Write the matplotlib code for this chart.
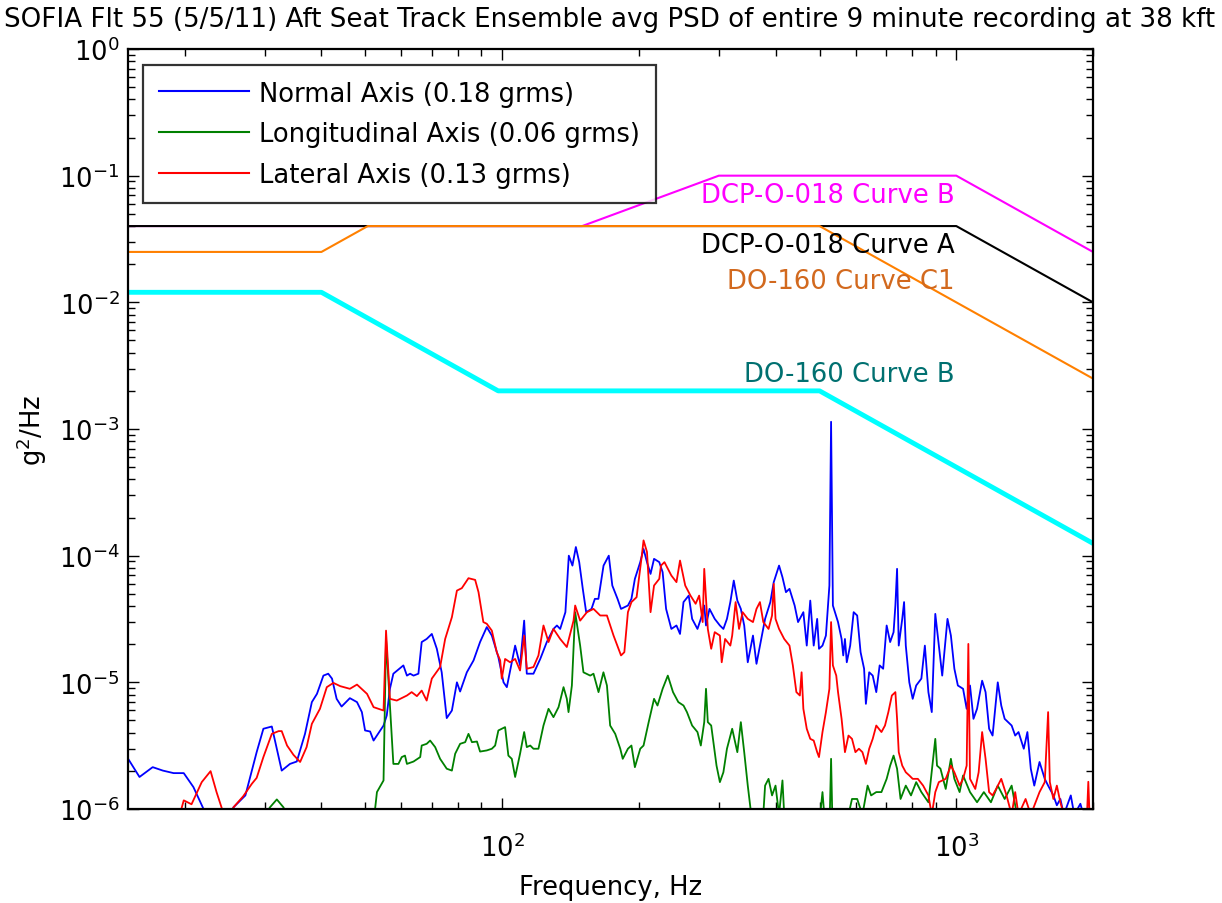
import math
import matplotlib
matplotlib.use("Agg")
import matplotlib.pyplot as plt
from matplotlib.ticker import LogLocator, FuncFormatter, NullFormatter, FixedLocator

plt.rcParams['font.family'] = ['DejaVu Sans']
plt.rcParams['mathtext.fontset'] = 'dejavusans'
plt.rcParams['mathtext.default'] = 'regular'

# ---- Measured PSD, Normal axis ----
normal_freq = [15.0, 15.9, 17.0, 17.9, 18.9, 19.9, 20.9, 22.0, 22.4, 25.2, 25.6, 27.2, 28.8, 29.8,
               31.1, 32.7, 34.1, 35.3, 36.8, 38.1, 39.1, 40.4, 41.4, 42.2, 43.2, 44.3, 46.2, 47.9,
               49.1, 49.9, 51.2, 52.1, 54.8, 55.7, 56.6, 57.6, 60.6, 61.7, 62.7, 63.8, 65.4, 66.5,
               68.2, 70.0, 71.8, 73.6, 75.5, 77.5, 79.5, 80.8, 83.6, 86.5, 89.4, 92.5, 94.9, 98.1,
               100.7, 102.4, 106.8, 109.5, 111.8, 113.3, 117.2, 121.3, 125.4, 129.7, 132.0, 134.2,
               137.8, 140.2, 142.8, 145.3, 147.8, 150.5, 153.1, 157.3, 160.0, 162.9, 167.2, 171.7,
               174.8, 179.5, 182.7, 189.2, 192.6, 196.0, 201.4, 204.8, 208.4, 212.2, 216.0, 221.8,
               225.6, 229.6, 235.8, 242.0, 246.4, 250.8, 257.5, 262.0, 269.2, 273.8, 278.6, 281.1,
               286.1, 293.8, 301.6, 307.0, 312.6, 318.0, 323.6, 329.5, 335.4, 341.2, 347.4, 356.7,
               363.1, 369.5, 379.3, 389.5, 396.3, 407.1, 414.2, 421.6, 429.2, 440.6, 448.3, 460.5,
               468.5, 476.9, 485.3, 493.9, 498.5, 507.4, 516.3, 525.5, 530.0, 534.9, 549.0, 559.0,
               563.7, 568.6, 573.9, 583.9, 594.3, 605.0, 615.5, 626.6, 632.3, 643.0, 654.6, 666.5,
               678.0, 690.2, 702.5, 715.1, 727.6, 734.3, 740.6, 746.9, 760.3, 767.4, 774.1, 788.0,
               801.7, 816.0, 837.7, 852.7, 868.1, 883.1, 899.0, 915.3, 931.1, 956.3, 973.0, 990.3,
               1008, 1035, 1054, 1072, 1091, 1111, 1140, 1160, 1181, 1202, 1234, 1256, 1278, 1324,
               1348, 1371, 1408, 1434, 1459, 1485, 1525, 1566, 1593, 1636, 1665, 1695, 1725, 1787,
               1819, 1876, 1923]
normal_psd = [2.5e-6, 1.79e-6, 2.14e-6, 2.01e-6, 1.92e-6, 1.92e-6, 1.49e-6, 1.0e-6, 8.5e-7, 8.5e-7,
              1.03e-6, 1.28e-6, 2.81e-6, 4.30e-6, 4.48e-6, 2.01e-6, 2.27e-6, 2.37e-6, 3.92e-6,
              6.98e-6, 8.11e-6, 1.13e-5, 1.17e-5, 1.07e-5, 7.41e-6, 6.44e-6, 7.5e-6, 6.98e-6,
              5.82e-6, 4.17e-6, 4.09e-6, 3.47e-6, 4.56e-6, 5.47e-6, 8.89e-6, 1.17e-5, 1.36e-5,
              1.13e-5, 1.17e-5, 1.13e-5, 1.17e-5, 2.08e-5, 2.2e-5, 2.41e-5, 1.84e-5, 1.2e-5,
              5.22e-6, 5.99e-6, 1.0e-5, 8.46e-6, 1.2e-5, 1.49e-5, 2.08e-5, 2.73e-5, 2.34e-5,
              1.58e-5, 1.0e-5, 9.16e-6, 1.95e-5, 1.36e-5, 3.07e-5, 1.17e-5, 1.17e-5, 1.53e-5,
              2.08e-5, 2.64e-5, 2.81e-5, 2.64e-5, 3.58e-5, 1.0e-4, 8.35e-5, 1.17e-4, 8.89e-5,
              5.47e-5, 3.58e-5, 3.8e-5, 4.56e-5, 4.56e-5, 8.35e-5, 1.0e-4, 5.81e-5, 4.56e-5,
              3.8e-5, 4.04e-5, 4.56e-5, 6.56e-5, 8.89e-5, 1.13e-4, 8.89e-5, 7.18e-5, 9.44e-5,
              8.89e-5, 7.41e-5, 3.8e-5, 2.64e-5, 2.81e-5, 2.41e-5, 4.3e-5, 4.84e-5, 3.17e-5,
              2.64e-5, 3.17e-5, 4.04e-5, 2.81e-5, 3.8e-5, 3.17e-5, 2.81e-5, 2.64e-5, 3.17e-5,
              4.3e-5, 6.36e-5, 4.42e-5, 3.8e-5, 2.81e-5, 1.44e-5, 2.34e-5, 1.4e-5, 1.95e-5,
              3.17e-5, 4.3e-5, 6.18e-5, 8.35e-5, 6.76e-5, 5.15e-5, 5.47e-5, 4.04e-5, 2.99e-5,
              3.58e-5, 1.95e-5, 4.42e-5, 1.95e-5, 3.17e-5, 1.84e-5, 1.95e-5, 2.34e-5, 5.81e-5,
              1.14e-3, 4.04e-5, 2.99e-5, 2.2e-5, 1.63e-5, 2.2e-5, 1.44e-5, 1.95e-5, 3.58e-5,
              3.37e-5, 1.73e-5, 1.28e-5, 6.76e-6, 1.2e-5, 1.13e-5, 8.37e-6, 1.36e-5, 1.28e-5,
              2.81e-5, 2.08e-5, 2.49e-5, 4.04e-5, 7.87e-5, 1.95e-5, 3.17e-5, 4.3e-5, 1.95e-5,
              1.0e-5, 7.41e-6, 9.44e-6, 1.07e-5, 1.95e-5, 8.37e-6, 5.82e-6, 3.47e-5, 1.95e-5,
              1.13e-5, 3.17e-5, 2.34e-5, 1.28e-5, 9.44e-6, 8.89e-6, 6.18e-6, 9.44e-6, 5.15e-6,
              6.18e-6, 1.03e-5, 8.37e-6, 4.3e-6, 3.8e-6, 1.0e-5, 6.56e-6, 5.15e-6, 4.56e-6,
              3.8e-6, 4.05e-6, 2.99e-6, 4.05e-6, 2.08e-6, 1.53e-6, 2.35e-6, 1.73e-6, 1.53e-6,
              1.28e-6, 1.07e-6, 1.2e-6, 9e-7, 1.28e-6, 9e-7, 1.1e-6, 8e-7]

# ---- Measured PSD, Longitudinal axis ----
long_freq = [30.1, 30.8, 31.9, 33.0, 33.5, 51.7, 52.5, 53.0, 54.8, 55.5, 57.6, 59.1, 60.1, 61.1,
             61.7, 63.8, 66.0, 66.5, 68.2, 69.4, 71.2, 73.0, 75.5, 77.5, 78.8, 80.8, 82.9, 84.3,
             85.8, 88.0, 89.4, 92.5, 94.9, 96.5, 98.1, 101.5, 103.2, 105.0, 106.8, 109.5, 111.8,
             113.3, 115.3, 117.2, 120.2, 123.3, 126.5, 129.7, 133.1, 136.5, 138.8, 140.0, 142.4,
             144.8, 148.5, 151.0, 156.3, 158.9, 163.0, 167.1, 170.1, 172.9, 177.4, 182.0, 184.3,
             189.2, 192.6, 196.0, 201.4, 204.8, 210.2, 216.0, 219.8, 225.6, 231.6, 237.8, 244.3,
             250.8, 255.2, 262.0, 269.2, 273.8, 278.6, 281.1, 283.7, 288.6, 296.5, 301.6, 307.0,
             312.6, 321.0, 329.5, 335.4, 341.2, 347.4, 353.6, 375.8, 379.3, 386.0, 392.9, 399.9,
             407.1, 414.2, 417.9, 501.5, 507.4, 512.0, 526.6, 530.0, 533.2, 578.9, 589.3, 605.0,
             621.3, 637.8, 649.3, 666.5, 684.2, 702.5, 715.1, 727.6, 740.6, 753.8, 774.1, 794.8,
             816.0, 837.7, 868.1, 899.0, 906.9, 922.9, 947.8, 973.0, 990.3, 1017, 1035, 1072,
             1111, 1150, 1192, 1234, 1278, 1324, 1360]
long_psd = [9e-7, 1.03e-6, 1.19e-6, 1.03e-6, 9e-7, 9e-7, 1.0e-6, 1.36e-6, 1.68e-6, 2.2e-5, 2.27e-6,
            2.27e-6, 2.57e-6, 2.64e-6, 2.27e-6, 2.37e-6, 2.57e-6, 3.17e-6, 3.27e-6, 3.47e-6,
            3.08e-6, 2.49e-6, 2.08e-6, 2.01e-6, 2.73e-6, 3.27e-6, 3.37e-6, 3.92e-6, 3.37e-6,
            3.41e-6, 2.84e-6, 2.9e-6, 2.99e-6, 3.17e-6, 4.17e-6, 4.43e-6, 2.64e-6, 2.49e-6,
            1.79e-6, 2.73e-6, 4.05e-6, 3.08e-6, 3.17e-6, 2.99e-6, 2.99e-6, 4.56e-6, 6.18e-6,
            5.31e-6, 6.37e-6, 9.16e-6, 7.41e-6, 5.82e-6, 9.44e-6, 3.58e-5, 1.95e-5, 1.2e-5,
            1.13e-5, 1.17e-5, 8.37e-6, 1.2e-5, 9.44e-6, 4.56e-6, 3.92e-6, 2.99e-6, 2.49e-6,
            2.99e-6, 3.17e-6, 2.14e-6, 2.99e-6, 3.17e-6, 4.85e-6, 7.41e-6, 6.56e-6, 8.89e-6,
            1.13e-5, 8.37e-6, 6.98e-6, 6.56e-6, 5.82e-6, 4.56e-6, 4.05e-6, 3.17e-6, 4.85e-6,
            8.89e-6, 4.85e-6, 4.56e-6, 2.2e-6, 1.63e-6, 1.95e-6, 2.99e-6, 4.3e-6, 2.81e-6,
            4.85e-6, 2.81e-6, 1.53e-6, 9e-7, 9e-7, 1.53e-6, 1.73e-6, 1.28e-6, 1.53e-6, 9e-7,
            1.68e-6, 9e-7, 9e-7, 1.36e-6, 9e-7, 9e-7, 2.49e-6, 9e-7, 9e-7, 1.2e-6, 1.2e-6, 9e-7,
            1.53e-6, 1.28e-6, 1.36e-6, 1.36e-6, 1.73e-6, 2.2e-6, 2.64e-6, 2.08e-6, 1.2e-6,
            1.53e-6, 1.28e-6, 1.63e-6, 1.36e-6, 1.13e-6, 3.58e-6, 2.2e-6, 2.08e-6, 1.44e-6,
            2.49e-6, 1.73e-6, 1.36e-6, 1.84e-6, 1.36e-6, 1.13e-6, 1.36e-6, 1.13e-6, 1.53e-6,
            1.2e-6, 1.53e-6, 9e-7]

# ---- Measured PSD, Lateral axis ----
lat_freq = [19.5, 19.9, 20.7, 21.8, 22.8, 23.5, 24.1, 24.5, 25.2, 25.6, 26.9, 28.1, 28.8, 29.8,
            31.1, 32.2, 32.7, 33.6, 34.7, 35.9, 37.1, 38.1, 39.7, 41.1, 42.5, 44.0, 46.2, 47.9,
            50.4, 52.1, 54.8, 55.5, 56.6, 58.6, 61.7, 63.2, 64.9, 66.5, 68.2, 70.0, 73.0, 74.9,
            77.5, 79.5, 81.5, 84.3, 87.2, 88.7, 90.9, 92.5, 94.9, 97.3, 99.0, 99.8, 101.5, 104.1,
            106.8, 109.5, 111.8, 113.3, 117.2, 120.2, 123.3, 126.5, 129.7, 134.2, 138.8, 143.6,
            144.8, 148.5, 153.7, 158.9, 164.4, 170.1, 175.9, 182.7, 185.8, 189.2, 192.6, 197.7,
            203.0, 204.8, 208.4, 212.2, 216.0, 221.8, 223.7, 227.7, 235.8, 242.0, 246.4, 253.0,
            259.8, 266.7, 271.5, 276.4, 278.6, 283.7, 288.6, 293.8, 301.6, 304.4, 309.7, 318.0,
            321.0, 326.6, 332.4, 338.4, 347.4, 356.7, 363.1, 369.5, 375.9, 386.0, 392.9, 396.3,
            399.9, 407.1, 417.9, 429.2, 436.6, 444.5, 452.4, 456.4, 460.5, 468.5, 476.9, 485.3,
            493.9, 498.5, 507.4, 516.3, 525.5, 530.0, 534.9, 544.1, 549.0, 559.0, 568.6, 578.9,
            589.3, 599.6, 610.4, 621.3, 632.3, 643.0, 654.6, 666.5, 684.2, 696.6, 708.6, 721.3,
            734.3, 740.6, 746.9, 760.3, 774.1, 788.0, 801.7, 823.0, 845.2, 868.1, 883.1, 899.0,
            915.3, 947.8, 973.0, 990.3, 1017, 1035, 1054, 1063, 1072, 1101, 1120, 1140, 1160,
            1181, 1202, 1224, 1256, 1290, 1324, 1348, 1371, 1421, 1459, 1525, 1566, 1593, 1607,
            1636, 1665, 1695, 1725, 1940, 1953, 1965]
lat_psd = [9e-7, 1.17e-6, 1.09e-6, 1.63e-6, 1.99e-6, 1.36e-6, 1.03e-6, 8.5e-7, 8.5e-7, 1.03e-6,
           1.26e-6, 1.58e-6, 1.76e-6, 2.57e-6, 3.92e-6, 4.12e-6, 4.12e-6, 3.17e-6, 2.68e-6,
           2.35e-6, 3.08e-6, 4.7e-6, 6.18e-6, 9.16e-6, 9.9e-6, 9.33e-6, 8.89e-6, 9.6e-6, 8.11e-6,
           6.37e-6, 5.99e-6, 2.56e-5, 7.41e-6, 7.18e-6, 7.87e-6, 8.37e-6, 7.78e-6, 8.61e-6,
           7.18e-6, 1.07e-5, 1.32e-5, 2.2e-5, 3.27e-5, 5.3e-5, 5.54e-5, 6.64e-5, 6.44e-5, 5.15e-5,
           2.99e-5, 2.9e-5, 2.56e-5, 1.73e-5, 1.49e-5, 1.07e-5, 1.53e-5, 1.44e-5, 1.53e-5,
           1.24e-5, 2.34e-5, 1.28e-5, 1.32e-5, 1.63e-5, 2.81e-5, 2.08e-5, 2.64e-5, 2.2e-5, 1.9e-5,
           3.07e-5, 4.04e-5, 3.07e-5, 3.58e-5, 3.8e-5, 3.37e-5, 3.37e-5, 2.34e-5, 1.63e-5,
           1.73e-5, 3.58e-5, 4.3e-5, 4.7e-5, 1.0e-4, 1.32e-4, 1.07e-4, 3.58e-5, 5.81e-5, 6.56e-5,
           8.35e-5, 8.89e-5, 6.97e-5, 6.18e-5, 9.15e-5, 5.81e-5, 4.84e-5, 4.17e-5, 4.84e-5,
           2.99e-5, 7.87e-5, 2.64e-5, 1.84e-5, 2.49e-5, 2.34e-5, 1.44e-5, 2.2e-5, 1.95e-5,
           2.34e-5, 4.3e-5, 2.64e-5, 3.58e-5, 3.17e-5, 2.99e-5, 3.8e-5, 4.3e-5, 2.99e-5, 2.64e-5,
           3.37e-5, 5.99e-5, 3.17e-5, 2.64e-5, 2.2e-5, 1.95e-5, 1.36e-5, 8.37e-6, 7.87e-6,
           1.2e-5, 6.18e-6, 4.3e-6, 3.58e-6, 3.47e-6, 2.81e-6, 2.57e-6, 4.05e-6, 5.82e-6,
           8.89e-6, 2.99e-5, 1.36e-5, 1.13e-5, 8.37e-6, 5.15e-6, 2.81e-6, 3.8e-6, 3.58e-6,
           2.81e-6, 2.99e-6, 2.81e-6, 2.27e-6, 2.99e-6, 3.58e-6, 4.56e-6, 4.05e-6, 4.56e-6,
           5.82e-6, 7.87e-6, 8.37e-6, 5.15e-6, 2.81e-6, 2.2e-6, 1.95e-6, 1.84e-6, 1.73e-6,
           1.73e-6, 1.53e-6, 1.28e-6, 9e-7, 1.36e-6, 1.63e-6, 1.73e-6, 2.2e-6, 1.95e-6, 1.53e-6,
           1.73e-6, 2.2e-6, 2.01e-5, 1.73e-6, 1.44e-6, 1.95e-6, 4.05e-6, 2.49e-6, 1.36e-6,
           1.28e-6, 1.44e-6, 1.73e-6, 1.28e-6, 9e-7, 1.36e-6, 9e-7, 1.2e-6, 9e-7, 1.36e-6,
           1.63e-6, 5.82e-6, 1.63e-6, 1.2e-6, 1.53e-6, 1.13e-6, 9e-7, 9e-7, 1.64e-6, 9e-7]

# ---- Specification curves ----
dcp_b_freq = [15, 150, 300, 1000, 2000]
dcp_b_psd = [0.04, 0.04, 0.1, 0.1, 0.025]
dcp_a_freq = [15, 1000, 2000]
dcp_a_psd = [0.04, 0.04, 0.01]
do160_c1_freq = [15, 40, 50.6, 500, 2000]
do160_c1_psd = [0.025, 0.025, 0.04, 0.04, 0.0025]
do160_b_freq = [15, 40, 98, 500, 2000]
do160_b_psd = [0.012, 0.012, 0.002, 0.002, 0.000125]

series_labels = ['Normal Axis (0.18 grms)', 'Longitudinal Axis (0.06 grms)',
                 'Lateral Axis (0.13 grms)']
spec_labels = ['DCP-O-018 Curve B', 'DCP-O-018 Curve A', 'DO-160 Curve C1', 'DO-160 Curve B']
spec_label_psd = [0.0704, 0.0284, 0.0148, 0.00272]

x_major_ticks = [100, 1000]
y_major_ticks = [1e-6, 1e-5, 1e-4, 1e-3, 1e-2, 1e-1, 1]

FS = 18.6

fig = plt.figure(figsize=(12.22, 9.04), dpi=100)
ax = fig.add_axes([128 / 1222, 1 - 810 / 904, (1093 - 128) / 1222, (810 - 50) / 904])

h1, = ax.plot(normal_freq, normal_psd, color='#0000FF', lw=1.3)
h2, = ax.plot(long_freq, long_psd, color='#008000', lw=1.3)
h3, = ax.plot(lat_freq, lat_psd, color='#FF0000', lw=1.3)

ax.plot(dcp_b_freq, dcp_b_psd, color='#FF00FF', lw=1.5)
ax.plot(dcp_a_freq, dcp_a_psd, color='black', lw=1.5)
ax.plot(do160_c1_freq, do160_c1_psd, color='#FF8000', lw=1.5)
ax.plot(do160_b_freq, do160_b_psd, color='#00FFFF', lw=3.5)

spec_colors = ['#FF00FF', 'black', '#D2691E', '#007070']
for lab, yv, c in zip(spec_labels, spec_label_psd, spec_colors):
    ax.text(990, yv, lab, color=c, fontsize=FS, ha='right', va='center')

ax.set_xscale('log')
ax.set_yscale('log')
ax.set_xlim(15, 2000)
ax.set_ylim(1e-6, 1)

ax.xaxis.set_major_locator(FixedLocator(x_major_ticks))
ax.xaxis.set_minor_locator(LogLocator(base=10, subs=range(2, 10), numticks=20))
ax.yaxis.set_major_locator(FixedLocator(y_major_ticks))
ax.yaxis.set_minor_locator(LogLocator(base=10, subs=range(2, 10), numticks=20))

sci = FuncFormatter(lambda v, p: r'$10^{%d}$' % round(math.log10(v)))
ax.xaxis.set_major_formatter(sci)
ax.yaxis.set_major_formatter(sci)
ax.xaxis.set_minor_formatter(NullFormatter())
ax.yaxis.set_minor_formatter(NullFormatter())
ax.xaxis.offsetText.set_visible(False)
ax.yaxis.offsetText.set_visible(False)

ax.tick_params(which='both', direction='in', top=True, right=True, labelsize=FS, width=1.0)
ax.tick_params(which='major', length=8)
ax.tick_params(which='minor', length=5)
ax.tick_params(axis='x', pad=18)
ax.tick_params(axis='y', pad=6)
for s in ax.spines.values():
    s.set_linewidth(1.6)

ax.set_xlabel('Frequency, Hz', fontsize=FS, labelpad=8)
ax.set_ylabel('g$^2$/Hz', fontsize=FS, labelpad=7)

fig.text(610 / 1222, 1 - 20 / 904,
         'SOFIA Flt 55 (5/5/11) Aft Seat Track Ensemble avg PSD of entire 9 minute recording at 38 kft',
         fontsize=18.8, ha='center', va='center')

leg = ax.legend([h1, h2, h3], series_labels, loc='upper left',
                bbox_to_anchor=(143 / 1222, 1 - 66 / 904), bbox_transform=fig.transFigure,
                fontsize=FS, frameon=True, fancybox=False, edgecolor='black',
                handlelength=3.5, handletextpad=0.4, labelspacing=0.57, borderpad=0.6,
                borderaxespad=0)
leg.get_frame().set_linewidth(1.6)
for ln in leg.get_lines():
    ln.set_linewidth(1.5)

fig.savefig('out.png', dpi=100)
